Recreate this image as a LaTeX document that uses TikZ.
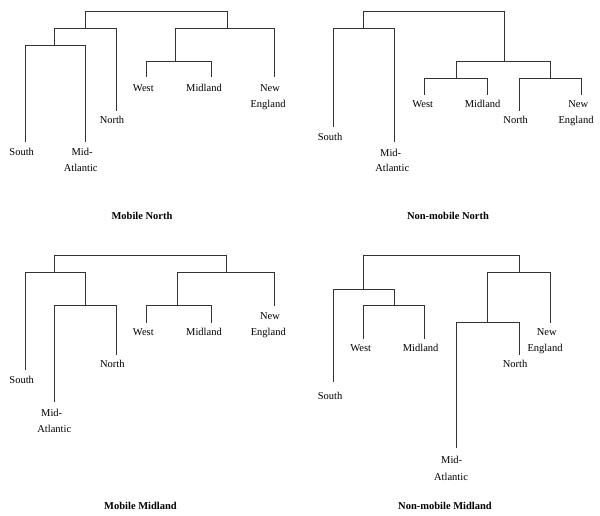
\documentclass[tikz,border=0pt]{standalone}
\usepackage{fontspec}
\setmainfont{Liberation Serif}
\begin{document}
\begin{tikzpicture}[x=1pt,y=-1pt,
  br/.style={draw=black!80,line width=0.75pt},
  lbl/.style={inner sep=0pt,anchor=base,text=black,font=\fontsize{10.5}{12}\selectfont},
  ttl/.style={inner sep=0pt,anchor=base,text=black,font=\fontsize{10.5}{12}\selectfont\bfseries}]
\useasboundingbox (0,0) rectangle (600,516);
% ---------- Mobile North ----------
\coordinate (r1) at (156.7,11.7);
\coordinate (L1) at (85.7,28.7);
\coordinate (R1) at (227.7,28.7);
\coordinate (SM1) at (54.7,45);
\coordinate (s1) at (25,141.7);
\coordinate (m1) at (85.7,141.7);
\coordinate (n1) at (116.3,111);
\coordinate (WM1) at (175.7,61.3);
\coordinate (w1) at (146,77.3);
\coordinate (d1) at (211.3,77.3);
\coordinate (e1) at (274,77.3);
\draw[br] (r1) -| (L1) (r1) -| (R1);
\draw[br] (L1) -| (SM1) (L1) -| (n1);
\draw[br] (SM1) -| (s1) (SM1) -| (m1);
\draw[br] (R1) -| (WM1) (R1) -| (e1);
\draw[br] (WM1) -| (w1) (WM1) -| (d1);
\node[lbl] (S1) at (21.7,155.9) {South};
\node[lbl] (MA1) at (82,155.6) {Mid-};
\node[lbl] (MB1) at (80.7,171.9) {Atlantic};
\node[lbl] (N1) at (112,123.6) {North};
\node[lbl] (W1) at (143.3,91.9) {West};
\node[lbl] (D1) at (204,91.9) {Midland};
\node[lbl] (EA1) at (270,91.9) {New};
\node[lbl] (EB1) at (268,107.9) {England};
\node[ttl] (T1) at (142,219.6) {Mobile North};
% ---------- Non-mobile North ----------
\coordinate (r2) at (433.7,11.7);
\coordinate (L2) at (363.3,28.7);
\coordinate (R2) at (504,61.7);
\coordinate (s2) at (333.3,126.7);
\coordinate (m2) at (394.7,141.7);
\coordinate (WM2) at (456.7,78.7);
\coordinate (NN2) at (550,78.7);
\coordinate (w2) at (424.3,95);
\coordinate (d2) at (487.3,95);
\coordinate (n2) at (519,111);
\coordinate (e2) at (581.7,95);
\draw[br] (r2) -| (L2) (r2) -| (R2);
\draw[br] (L2) -| (s2) (L2) -| (m2);
\draw[br] (R2) -| (WM2) (R2) -| (NN2);
\draw[br] (WM2) -| (w2) (WM2) -| (d2);
\draw[br] (NN2) -| (n2) (NN2) -| (e2);
\node[lbl] (S2) at (330,140.3) {South};
\node[lbl] (MA2) at (390.7,156.3) {Mid-};
\node[lbl] (MB2) at (392.3,171.9) {Atlantic};
\node[lbl] (W2) at (422.7,107.9) {West};
\node[lbl] (D2) at (482.7,107.9) {Midland};
\node[lbl] (N2) at (515.7,123.6) {North};
\node[lbl] (EA2) at (578.3,107.9) {New};
\node[lbl] (EB2) at (576,123.6) {England};
\node[ttl] (T2) at (448,219.6) {Non-mobile North};
% ---------- Mobile Midland ----------
\coordinate (r3) at (140.35,255.7);
\coordinate (L3) at (54.7,272.3);
\coordinate (R3) at (226,272.3);
\coordinate (s3) at (25,370);
\coordinate (MN3) at (85.7,305.7);
\coordinate (m3) at (54.7,401.7);
\coordinate (n3) at (116.3,355);
\coordinate (WM3) at (177.7,305.7);
\coordinate (e3) at (274,305.7);
\coordinate (w3) at (146.7,322.7);
\coordinate (d3) at (211.3,322.7);
\draw[br] (r3) -| (L3) (r3) -| (R3);
\draw[br] (L3) -| (s3) (L3) -| (MN3);
\draw[br] (MN3) -| (m3) (MN3) -| (n3);
\draw[br] (R3) -| (WM3) (R3) -| (e3);
\draw[br] (WM3) -| (w3) (WM3) -| (d3);
\node[lbl] (S3) at (21.7,383.6) {South};
\node[lbl] (MA3) at (51.7,416.3) {Mid-};
\node[lbl] (MB3) at (54.3,432.3) {Atlantic};
\node[lbl] (N3) at (112.3,367.9) {North};
\node[lbl] (W3) at (143.3,335.9) {West};
\node[lbl] (D3) at (204,335.9) {Midland};
\node[lbl] (EA3) at (270,319.3) {New};
\node[lbl] (EB3) at (268.3,335.3) {England};
\node[ttl] (T3) at (140.5,509.3) {Mobile Midland};
% ---------- Non-mobile Midland ----------
\coordinate (r4) at (441.15,255.7);
\coordinate (L4) at (363.3,289.3);
\coordinate (R4) at (519,272.3);
\coordinate (s4) at (333.3,381.7);
\coordinate (WM4) at (394.7,305.7);
\coordinate (w4) at (363.3,338.7);
\coordinate (d4) at (424.3,338.7);
\coordinate (MN4) at (487.3,322.3);
\coordinate (e4) at (550,323.3);
\coordinate (m4) at (456.7,448.3);
\coordinate (n4) at (519,355);
\draw[br] (r4) -| (L4) (r4) -| (R4);
\draw[br] (L4) -| (s4) (L4) -| (WM4);
\draw[br] (WM4) -| (w4) (WM4) -| (d4);
\draw[br] (R4) -| (MN4) (R4) -| (e4);
\draw[br] (MN4) -| (m4) (MN4) -| (n4);
\node[lbl] (S4) at (330,399.6) {South};
\node[lbl] (W4) at (360.7,351.9) {West};
\node[lbl] (D4) at (420.7,351.9) {Midland};
\node[lbl] (EA4) at (546.7,335.9) {New};
\node[lbl] (EB4) at (545,351.9) {England};
\node[lbl] (N4) at (515,367.9) {North};
\node[lbl] (MA4) at (451.7,463.6) {Mid-};
\node[lbl] (MB4) at (451,480.3) {Atlantic};
\node[ttl] (T4) at (445,509.3) {Non-mobile Midland};
\end{tikzpicture}
\end{document}
